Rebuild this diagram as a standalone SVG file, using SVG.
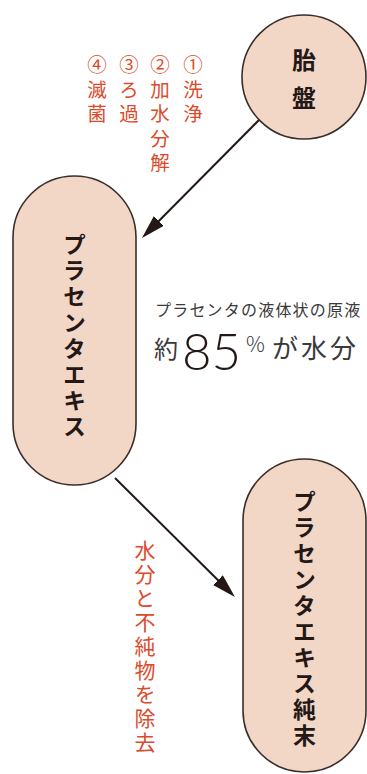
<svg xmlns="http://www.w3.org/2000/svg" width="367" height="774" viewBox="0 0 367 774">
<style>
.node{fill:#f2d6c6;stroke:#3a2e2a;stroke-width:1.6}
.lbl{font-family:"Noto Sans CJK JP","Noto Sans",sans-serif;font-weight:700;fill:#231815}
.vert{writing-mode:vertical-rl;glyph-orientation-vertical:0}
.red{font-family:"Noto Sans CJK JP","Noto Sans",sans-serif;fill:#dc4a2c;font-weight:400}
.note{font-family:"Noto Sans CJK JP","Noto Sans",sans-serif;fill:#3a3a3a}
.conn{stroke:#231815;stroke-width:2;fill:none}
</style>
<defs>
<marker id="ah" markerUnits="userSpaceOnUse" markerWidth="24" markerHeight="14" refX="18" refY="7" orient="auto">
<path d="M0,0 L24,7 L0,14 z" fill="#231815"/>
</marker>
</defs>
<rect width="367" height="774" fill="#ffffff"/>
<g id="connectors">
<line class="conn" x1="259" y1="120" x2="146.2" y2="233.7" marker-end="url(#ah)"/>
<line class="conn" x1="115" y1="478" x2="230.7" y2="592.8" marker-end="url(#ah)"/>
</g>
<g id="node-taiban">
<circle class="node" cx="304" cy="77" r="62"/>
<text class="lbl" x="304" y="58.5" font-size="24" text-anchor="middle" dominant-baseline="central">胎</text>
<text class="lbl" x="304" y="96" font-size="24" text-anchor="middle" dominant-baseline="central">盤</text>
</g>
<g id="node-extract">
<rect class="node" x="13" y="176" width="123" height="309" rx="61.5" ry="61.5"/>
<text class="lbl vert" x="74.5" y="233" font-size="23" letter-spacing="3">プラセンタエキス</text>
</g>
<g id="node-pure">
<rect class="node" x="243" y="459" width="123" height="313" rx="61.5" ry="61.5"/>
<text class="lbl vert" x="304.5" y="490" font-size="23" letter-spacing="3">プラセンタエキス純末</text>
</g>
<g id="steps">
<text class="red vert" x="193" y="55" font-size="19.5" letter-spacing="5">①洗浄</text>
<text class="red vert" x="160" y="55" font-size="19.5" letter-spacing="5">②加水分解</text>
<text class="red vert" x="129" y="55" font-size="19.5" letter-spacing="5">③ろ過</text>
<text class="red vert" x="97" y="55" font-size="19.5" letter-spacing="5">④滅菌</text>
</g>
<g id="removal">
<text class="red vert" x="145" y="540" font-size="21" letter-spacing="3">水分と不純物を除去</text>
</g>
<g id="info">
<text class="note" x="155" y="316" font-size="16" letter-spacing="1.2">プラセンタの液体状の原液</text>
<text class="note" x="154" y="358" font-size="24">約</text>
<text x="182" y="370" font-family="Lato,'Noto Sans',sans-serif" font-weight="300" font-size="51" letter-spacing="0" fill="#231815">85</text>
<text class="note" x="246" y="352" font-size="21" font-family="Lato,'Noto Sans',sans-serif" font-weight="300">%</text>
<text class="note" x="272" y="358" font-size="26" letter-spacing="3">が水分</text>
</g>
</svg>
